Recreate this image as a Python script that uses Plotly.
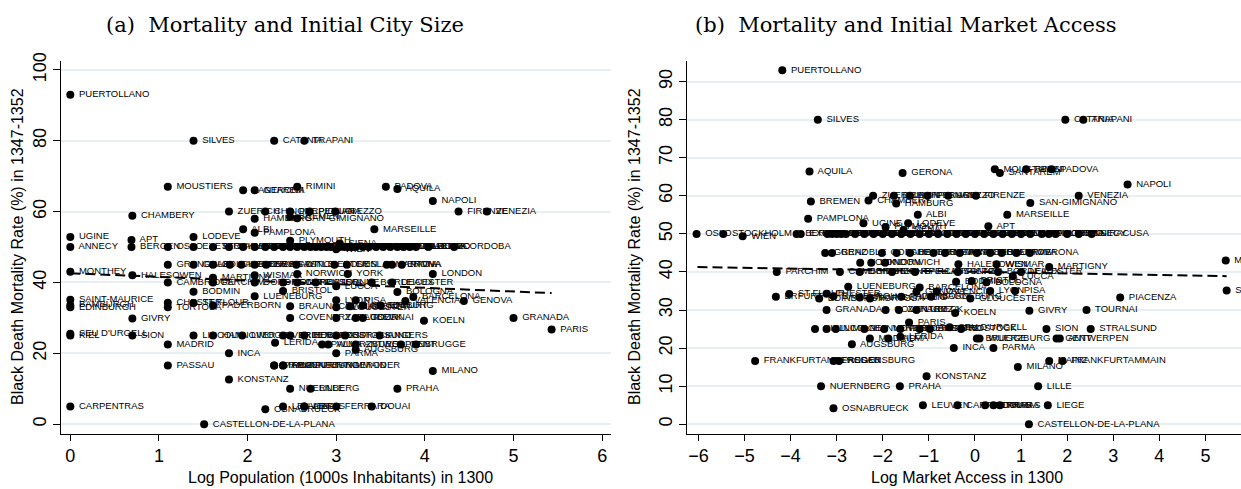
import plotly.graph_objects as go

# city labels, grouped by mortality band (same order in every array below)
cities = [
    # 49 and above
    "PUERTOLLANO", "SILVES", "CATANIA", "TRAPANI", "MOUSTIERS", "RIMINI", "PADOVA", "AQUILA",
    "SANTAREM", "GERONA", "NAPOLI", "ZUERICH", "CHINON", "PERPIGNAN", "PERUGIA", "AREZZO",
    "FIRENZE", "VENEZIA", "CHAMBERY", "HAMBURG", "BREMEN", "SAN-GIMIGNANO", "ALBI", "MARSEILLE",
    "PAMPLONA", "UGINE", "LODEVE", "APT", "PLYMOUTH", "SIENA", "WIEN",
    # 50
    "ANNECY", "OSLO", "STOCKHOLM", "BERGEN", "EXETER", "SALISBURY", "WORCESTER", "CHICHESTER",
    "CARLISLE", "DURHAM", "TOLEDO", "SEVILLA", "BURGOS", "LEON", "SALAMANCA", "SEGOVIA",
    "LISBOA", "PORTO", "COIMBRA", "EVORA", "TOULOUSE", "NARBONNE", "BEZIERS", "NIMES",
    "AVIGNON", "ARLES", "TOULON", "NICE", "CAHORS", "RODEZ", "ROMA", "ORVIETO",
    "PALERMO", "CORDOBA", "SIRACUSA",
    # 45
    "GRENOBLE", "GRAZ", "COLCHESTER", "BADEN", "HALBERSTADT", "NOVARA", "NEWCASTLE",
    "WINCHESTER", "ROUEN", "GOSLAR", "MANTOVA", "VERONA", "PAVIA",
    # 43 - 33
    "MONTHEY", "HALESOWEN", "WISMAR", "NORWICH", "YORK", "LONDON", "MARTIGNY", "CAMBRIDGE",
    "PARCHIM", "DORDRECHT", "MONTPELLIER", "CARCASSONNE", "PISTOIA", "BORDEAUX", "LEICESTER",
    "LUCCA", "BODMIN", "BRISTOL", "BOLOGNA", "LUENEBURG", "BARCELONA", "SAINT-MAURICE", "LYON",
    "VALENCIA", "GENOVA", "PISA", "EDINBURGH", "BAMBURGH", "CHESTER", "TORTOSA", "ST FLOUR",
    "PADERBORN", "BRAUNSCHWEIG", "GLOUCESTER", "PIACENZA", "MAGDEBURG", "ERFURT",
    # 30 and below
    "GIVRY", "COVENTRY", "ZARAGOZA", "LUBECK", "TOURNAI", "KOELN", "GRANADA", "PARIS",
    "SEU D'URGELL", "KIEL", "SION", "LINCOLN", "HANNOVER", "LIMOGES", "VERDEN", "FRIEDBERG",
    "HEREFORD", "ROSTOCK", "STRALSUND", "ANGERS", "MADRID", "LERIDA", "PALMA", "WUERZBURG",
    "ANTWERPEN", "GENT", "BRUGGE", "AUGSBURG", "INCA", "PARMA", "PASSAU", "FRANKFURTANDERODER",
    "MAINZ", "REGENSBURG", "FRANKFURTAMMAIN", "MILANO", "KONSTANZ", "NUERNBERG", "LILLE", "PRAHA",
    "CARPENTRAS", "LEUVEN", "LIEGE", "ARRAS", "FERRARA", "DOUAI", "OSNABRUECK",
    "CASTELLON-DE-LA-PLANA",
]

log_pop = [
    0.00, 1.39, 2.30, 2.64, 1.10, 2.56, 3.56, 3.69,
    1.95, 2.08, 4.09, 1.79, 2.20, 2.48, 2.70, 2.99,
    4.38, 4.70, 0.70, 2.08, 2.48, 2.56, 1.95, 3.43,
    2.08, 0.00, 1.39, 0.69, 2.48, 3.04, 3.00,
    0.00, 1.10, 1.61, 0.69, 1.39, 1.79, 1.95, 2.08,
    2.20, 2.30, 2.40, 3.69, 2.48, 2.56, 2.64, 2.71,
    3.61, 2.77, 2.83, 2.89, 3.76, 3.22, 2.94, 3.04,
    3.30, 3.09, 3.14, 3.18, 3.37, 3.45, 4.04, 3.53,
    3.90, 4.33, 3.83,
    1.10, 1.39, 1.61, 1.80, 1.93, 2.08, 2.21,
    2.55, 2.98, 3.12, 3.57, 3.63, 3.74,
    0.00, 0.70, 2.08, 2.56, 3.13, 4.09, 1.61, 1.10,
    1.61, 2.08, 2.40, 2.56, 2.77, 3.40, 3.63,
    3.00, 1.39, 2.40, 3.69, 2.08, 3.87, 0.00, 3.00,
    3.78, 4.44, 3.22, 0.00, 0.00, 1.10, 1.10, 1.39,
    1.61, 2.48, 3.00, 3.16, 3.30, 3.50,
    0.70, 2.48, 3.00, 3.22, 3.30, 3.99, 5.00, 5.43,
    0.00, 0.00, 0.70, 1.39, 1.61, 1.94, 2.40, 2.48,
    2.64, 3.00, 3.10, 3.49, 1.10, 2.31, 2.84, 2.91,
    3.22, 3.73, 3.90, 3.22, 1.79, 3.00, 1.10, 2.30,
    2.30, 2.40, 2.40, 4.09, 1.79, 2.48, 2.71, 3.69,
    0.00, 2.40, 2.64, 2.64, 3.00, 3.40, 2.20,
    1.51,
]

log_market_access = [
    -4.18, -3.41, 1.96, 2.35, 0.43, 1.11, 1.66, -3.59,
    0.54, -1.57, 3.31, -2.21, -1.76, -1.41, -1.03, -0.58,
    0.02, 2.25, -2.31, -1.71, -3.56, 1.20, -1.24, 0.70,
    -3.62, -2.42, -1.45, 0.29, -1.94, -1.55, -5.04,
    2.25, -6.04, -5.46, -3.87, -3.78, -3.20, -3.00, -2.80,
    -2.60, -2.40, -2.20, -2.00, -1.80, -1.60, -1.40, -1.20,
    -1.00, -0.80, -0.60, -0.40, -0.20, 0.00, 0.20, 0.40,
    0.60, 0.80, 1.00, 1.20, 1.45, 1.75, 2.00, -2.90,
    1.60, -3.10, 2.53,
    -3.25, -3.10, -2.02, -1.70, -1.41, -0.90, -0.65,
    -0.33, 0.04, 0.33, 0.58, 1.19, 0.90,
    5.44, -0.36, 0.47, -1.95, -2.49, -2.25, 1.61, -2.93,
    -4.30, -2.50, -1.80, -1.30, -0.37, 0.50, 1.00,
    0.82, -0.41, -0.07, 0.25, -2.75, -1.20, 5.46, 0.33,
    -0.83, -1.27, 0.87, -3.38, -3.07, -3.22, -2.28, -4.03,
    -1.60, -2.50, -0.10, 3.15, -0.95, -4.32,
    1.18, -1.94, -1.65, -1.27, 2.42, -0.43, -3.22, -1.43,
    -0.55, -3.47, 1.55, -3.22, -2.40, -3.02, -1.97, -1.62,
    -1.20, -0.30, 2.51, -0.98, -2.28, -1.62, -1.88, 0.10,
    1.84, 1.77, 0.04, -2.67, -0.46, 0.40, -3.07, -4.77,
    1.61, -2.95, 1.90, 0.93, -1.05, -3.34, 1.37, -1.63,
    -0.38, -1.13, 1.58, 0.54, 0.22, 0.40, -3.07,
    1.17,
]

mortality = [
    93, 80, 80, 80, 67, 67, 67, 66.4,
    66, 66, 63, 60, 60, 60, 60, 60,
    60, 60, 58.8, 58, 58.5, 58.1, 55, 55,
    54, 52.8, 52.8, 52, 51.8, 51, 49.4,
    50, 50, 50, 50, 50, 50, 50, 50,
    50, 50, 50, 50, 50, 50, 50, 50,
    50, 50, 50, 50, 50, 50, 50, 50,
    50, 50, 50, 50, 50, 50, 50, 50,
    50, 50, 50,
    45, 45, 45, 45, 45, 45, 45,
    45, 45, 45, 45, 45, 45,
    43, 42, 42, 42.4, 42.4, 42.4, 41.3, 40,
    40, 40, 40, 40, 40, 40, 40,
    38.9, 37.4, 37.6, 37.3, 36.1, 35.9, 35.1, 35,
    34.8, 34.8, 35, 33, 33.6, 34.3, 33, 34.2,
    33.5, 33.3, 33, 33.3, 33.5, 33.5,
    29.8, 30, 30, 30, 30, 29.2, 30, 26.7,
    25.5, 25, 25, 25, 25, 25, 25, 25,
    25, 25, 25, 25, 22.5, 23, 22.5, 22.5,
    22.5, 22.5, 22.5, 21, 20, 20, 16.6, 16.6,
    16.6, 16.6, 16.6, 15, 12.6, 10, 10, 10,
    5, 5, 5, 5, 5, 5, 4.2,
    0,
]

# fitted (dashed) lines, end points
fit_pop_x = [0.0, 5.43]
fit_pop_y = [42.6, 37.0]
fit_ma_x = [-6.02, 5.46]
fit_ma_y = [41.3, 38.9]

SANS = "Liberation Sans, Arial, sans-serif"
SERIF = "DejaVu Serif, serif"
labels = [" " + c for c in cities]

fig = go.Figure()

for xs, xa, ya, fx, fy in [(log_pop, "x", "y", fit_pop_x, fit_pop_y),
                           (log_market_access, "x2", "y2", fit_ma_x, fit_ma_y)]:
    fig.add_trace(go.Scatter(
        x=xs, y=mortality, xaxis=xa, yaxis=ya,
        mode="markers+text", text=labels, textposition="middle right",
        textfont=dict(family=SANS, size=9.5, color="black"),
        marker=dict(color="black", size=8),
        cliponaxis=False, hoverinfo="skip", showlegend=False,
    ))
    fig.add_trace(go.Scatter(
        x=fx, y=fy, xaxis=xa, yaxis=ya, mode="lines",
        line=dict(color="black", width=2, dash="10px,5px"),
        hoverinfo="skip", showlegend=False,
    ))

ydom = [1 - 432.7 / 489, 1 - 53.3 / 489]
xcommon = dict(showline=True, linecolor="black", linewidth=1, ticks="outside", ticklen=6,
               tickcolor="black", tickfont=dict(family=SANS, size=18, color="black"),
               showgrid=False, zeroline=False)
ycommon = dict(showline=True, linecolor="black", linewidth=1, ticks="outside", ticklen=7,
               tickcolor="black", tickfont=dict(family=SANS, size=18, color="black"),
               showgrid=True, gridcolor="#e8eff2", gridwidth=2, zeroline=False, tickangle=-90)

fig.update_layout(
    width=1241, height=489,
    margin=dict(l=0, r=0, t=0, b=0),
    plot_bgcolor="white", paper_bgcolor="white",
    showlegend=False,
    xaxis=dict(domain=[61 / 1241, 611 / 1241], range=[-0.105, 6.10],
               tickvals=[0, 1, 2, 3, 4, 5, 6], anchor="y", **xcommon),
    yaxis=dict(domain=ydom, range=[-2.69, 102.4],
               tickvals=[0, 20, 40, 60, 80, 100], anchor="x", **ycommon),
    xaxis2=dict(domain=[686.7 / 1241, 1.0], range=[-6.254, 5.771],
                tickvals=[-6, -5, -4, -3, -2, -1, 0, 1, 2, 3, 4, 5], anchor="y2", **xcommon),
    yaxis2=dict(domain=ydom, range=[-2.5, 95.33],
                tickvals=[0, 10, 20, 30, 40, 50, 60, 70, 80, 90], anchor="x2", **ycommon),
)

ann = [
    dict(text="(a)  Mortality and Initial City Size", x=285 / 1241, y=1 - 16 / 489,
         font=dict(family=SERIF, size=21, color="black")),
    dict(text="(b)  Mortality and Initial Market Access", x=906 / 1241, y=1 - 16 / 489,
         font=dict(family=SERIF, size=21, color="black")),
    dict(text="Black Death Mortality Rate (%) in 1347-1352", x=17.5 / 1241, y=1 - 242 / 489,
         textangle=-90, font=dict(family=SANS, size=16, color="black")),
    dict(text="Black Death Mortality Rate (%) in 1347-1352", x=634.5 / 1241, y=1 - 242 / 489,
         textangle=-90, font=dict(family=SANS, size=16, color="black")),
    dict(text="Log Population (1000s Inhabitants) in 1300", x=340 / 1241, y=1 - 477 / 489,
         font=dict(family=SANS, size=16, color="black")),
    dict(text="Log Market Access in 1300", x=967 / 1241, y=1 - 477 / 489,
         font=dict(family=SANS, size=16, color="black")),
]
for a in ann:
    fig.add_annotation(xref="paper", yref="paper", showarrow=False,
                       xanchor="center", yanchor="middle", **a)

# drop the default page margin so the figure sits at the window's top-left corner
fig.write_html("out.html", config={"displayModeBar": False},
               post_script="document.body.style.margin='0';")
